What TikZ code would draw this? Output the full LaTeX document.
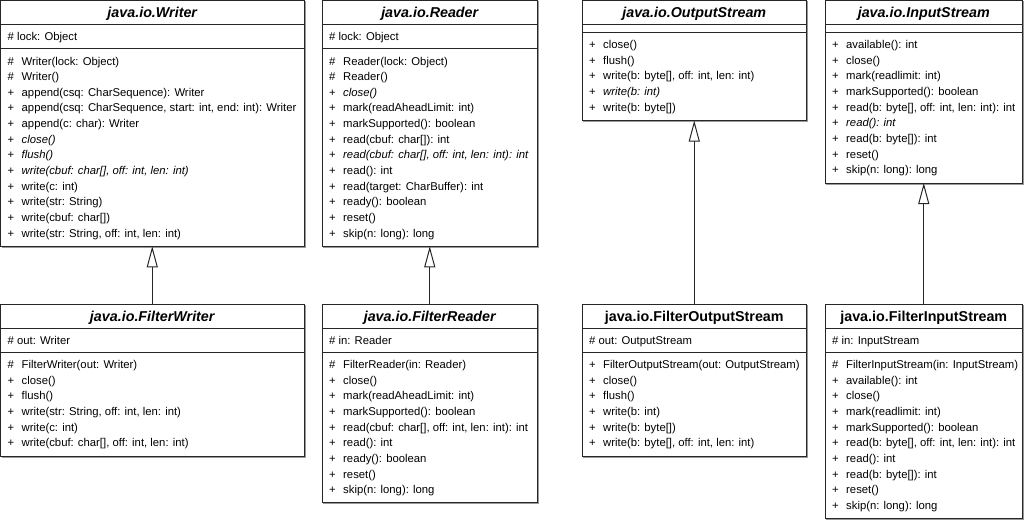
\documentclass[tikz,border=0pt]{standalone}
\usepackage{fontspec}
\setmainfont{Liberation Sans}
\usetikzlibrary{arrows.meta}
\tikzset{
  box/.style={draw=black!85, line width=1pt, fill=white, inner sep=0pt, outer sep=0pt, anchor=north west},
  shadowline/.style={draw=black!40, line width=1pt},
  div/.style={draw=black!85, line width=1pt},
  ttl/.style={anchor=base, inner sep=0pt, font=\fontsize{14.3}{17}\selectfont\bfseries},
  ttli/.style={anchor=base, inner sep=0pt, font=\fontsize{14.3}{17}\selectfont\bfseries\itshape},
  sym/.style={anchor=base west, inner sep=0pt, font=\fontsize{11.3}{13}\selectfont},
  txt/.style={anchor=base west, inner sep=0pt, font=\fontsize{11.3}{13}\selectfont},
  inh/.style={draw=black!85, line width=1pt, -{Triangle[open, length=21pt, width=11pt, line width=1pt]}},
}
% id, x0, x1, y0, y1, attribute divider offset, title style, title
\newcommand\umlclass[8]{%
  \node[box, minimum width={#3-#2}, minimum height={#5-#4}] (#1) at ({#2},{#4}) {};
  \draw[shadowline] ([xshift=1pt,yshift=-1pt]#1.south west) -- ([xshift=1pt,yshift=-1pt]#1.south east) -- ([xshift=1pt,yshift=-1pt]#1.north east);
  \node[#7] (#1-title) at ({(#2+#3)/2},{#4+17}) {#8};
  \draw[div] ([yshift=-24pt]#1.north west) -- ([yshift=-24pt]#1.north east);
  \draw[div] ([yshift=-#6pt]#1.north west) -- ([yshift=-#6pt]#1.north east);
}
% id, x0, first row centre y, list
\newcommand\umlrows[4]{%
  \foreach \ms/\mt [count=\i from 0] in {#4}{%
    \node[sym] (#1-s\i) at ({#2+7},{#3+\i*15.65+4}) {\ms};
    \node[txt] (#1-m\i) at ({#2+21},{#3+\i*15.65+4}) {\mt};
  }%
}
\begin{document}
\begin{tikzpicture}[x=1pt, y=-1pt]
\useasboundingbox (0,0) rectangle (1024,519);

% ---------- java.io.Writer ----------
\umlclass{W}{0.5}{304}{0.5}{246.3}{48.5}{ttli}{java.io.Writer}
\node[txt] (W-a) at (7.5,40.5) {\# lock: Object};
\umlrows{W}{0.5}{61}{{\#}/{Writer(lock: Object)},{\#}/{Writer()},{+}/{append(csq: CharSequence): Writer},{+}/{append(csq: CharSequence, start: int, end: int): Writer},{+}/{append(c: char): Writer},{+}/{\textit{close()}},{+}/{\textit{flush()}},{+}/{\textit{write(cbuf: char[], off: int, len: int)}},{+}/{write(c: int)},{+}/{write(str: String)},{+}/{write(cbuf: char[])},{+}/{write(str: String, off: int, len: int)}}

% ---------- java.io.Reader ----------
\umlclass{R}{322}{537.5}{0.5}{246.3}{48.5}{ttli}{java.io.Reader}
\node[txt] (R-a) at (329,40.5) {\# lock: Object};
\umlrows{R}{322}{61}{{\#}/{Reader(lock: Object)},{\#}/{Reader()},{+}/{\textit{close()}},{+}/{mark(readAheadLimit: int)},{+}/{markSupported(): boolean},{+}/{read(cbuf: char[]): int},{+}/{\textit{read(cbuf: char[], off: int, len: int): int}},{+}/{read(): int},{+}/{read(target: CharBuffer): int},{+}/{ready(): boolean},{+}/{reset()},{+}/{skip(n: long): long}}

% ---------- java.io.OutputStream ----------
\umlclass{OS}{582}{806.5}{0.5}{120.5}{32}{ttli}{java.io.OutputStream}
\umlrows{OS}{582}{44.5}{{+}/{close()},{+}/{flush()},{+}/{write(b: byte[], off: int, len: int)},{+}/{\textit{write(b: int)}},{+}/{write(b: byte[])}}

% ---------- java.io.InputStream ----------
\umlclass{IS}{825}{1022.5}{0.5}{183}{32}{ttli}{java.io.InputStream}
\umlrows{IS}{825}{44.5}{{+}/{available(): int},{+}/{close()},{+}/{mark(readlimit: int)},{+}/{markSupported(): boolean},{+}/{read(b: byte[], off: int, len: int): int},{+}/{\textit{read(): int}},{+}/{read(b: byte[]): int},{+}/{reset()},{+}/{skip(n: long): long}}

% ---------- java.io.FilterWriter ----------
\umlclass{FW}{0.5}{304}{304}{456}{48.5}{ttli}{java.io.FilterWriter}
\node[txt] (FW-a) at (7.5,344) {\# out: Writer};
\umlrows{FW}{0.5}{364.5}{{\#}/{FilterWriter(out: Writer)},{+}/{close()},{+}/{flush()},{+}/{write(str: String, off: int, len: int)},{+}/{write(c: int)},{+}/{write(cbuf: char[], off: int, len: int)}}

% ---------- java.io.FilterReader ----------
\umlclass{FR}{322}{537.5}{304}{502.5}{48.5}{ttli}{java.io.FilterReader}
\node[txt] (FR-a) at (329,344) {\# in: Reader};
\umlrows{FR}{322}{364.5}{{\#}/{FilterReader(in: Reader)},{+}/{close()},{+}/{mark(readAheadLimit: int)},{+}/{markSupported(): boolean},{+}/{read(cbuf: char[], off: int, len: int): int},{+}/{read(): int},{+}/{ready(): boolean},{+}/{reset()},{+}/{skip(n: long): long}}

% ---------- java.io.FilterOutputStream ----------
\umlclass{FOS}{582}{806.5}{304}{456}{48.5}{ttl}{java.io.FilterOutputStream}
\node[txt] (FOS-a) at (589,344) {\# out: OutputStream};
\umlrows{FOS}{582}{364.5}{{+}/{FilterOutputStream(out: OutputStream)},{+}/{close()},{+}/{flush()},{+}/{write(b: int)},{+}/{write(b: byte[])},{+}/{write(b: byte[], off: int, len: int)}}

% ---------- java.io.FilterInputStream ----------
\umlclass{FIS}{825}{1022.5}{304}{518.3}{48.5}{ttl}{java.io.FilterInputStream}
\node[txt] (FIS-a) at (832,344) {\# in: InputStream};
\umlrows{FIS}{825}{364.5}{{\#}/{FilterInputStream(in: InputStream)},{+}/{available(): int},{+}/{close()},{+}/{mark(readlimit: int)},{+}/{markSupported(): boolean},{+}/{read(b: byte[], off: int, len: int): int},{+}/{read(): int},{+}/{read(b: byte[]): int},{+}/{reset()},{+}/{skip(n: long): long}}

% ---------- generalisations ----------
\draw[inh] (FW.north) -- (W.south);
\draw[inh] (FR.north) -- (R.south);
\draw[inh] (FOS.north) -- (OS.south);
\draw[inh] (FIS.north) -- (IS.south);
\end{tikzpicture}
\end{document}
